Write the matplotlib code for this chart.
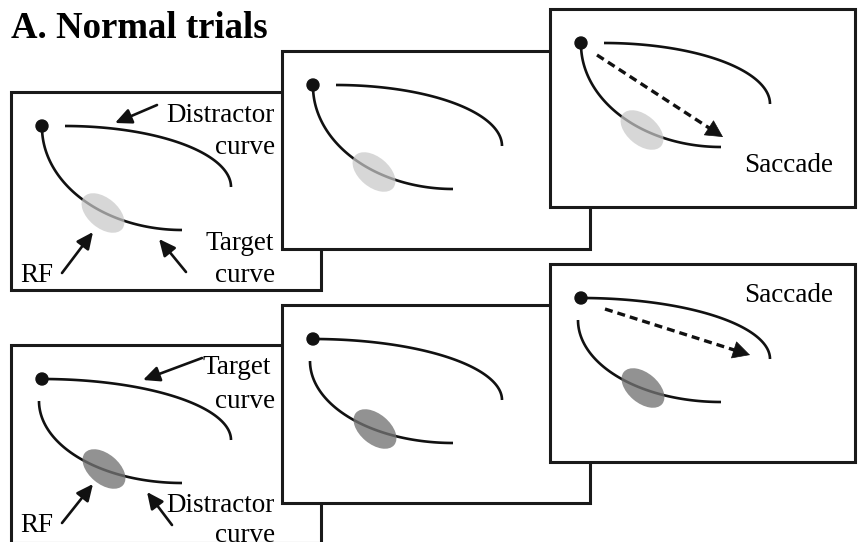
import numpy as np
import matplotlib.pyplot as plt
from matplotlib.patches import Rectangle, Ellipse, Circle, FancyArrowPatch

plt.rcParams['font.family'] = ['Liberation Serif', 'DejaVu Serif']

# panel frames (pixel coords, y down), three stages per row
PANEL_X = [11, 282, 550, 11, 282, 550]
PANEL_Y = [92, 51, 9, 345, 305, 264]
PANEL_W = [310, 308, 305, 310, 308, 305]
PANEL_H = 198
PANEL_ROW = [0, 0, 0, 1, 1, 1]
PANEL_STAGE = [0, 1, 2, 0, 1, 2]

# curves relative to the panel corner: start, end
UPPER_START = [(54, 34), (31, 34)]   # horizontal start, vertical end
UPPER_END = [(220, 95), (220, 95)]
LOWER_START = [(31, 35), (28, 56)]   # vertical start, horizontal end
LOWER_END = [(171, 138), (171, 138)]
FIX_DOT = (31, 34)

RF_CENTER = [(92, 121), (93, 124)]
RF_COLOR = ['#c8c8c8', '#737373']
RF_ALPHA = [0.72, 0.78]

SACCADE_FROM = [(47, 46), (55, 45)]
SACCADE_TO = [(173, 128), (200, 91)]
SACCADE_LABEL_POS = [(283, 154), (283, 28)]

# labels of first-stage panels: text, right edge x, centre y
LABELS = [
    [("Distractor", 264, 21), ("curve", 264, 53), ("Target", 263, 148), ("curve", 264, 181)],
    [("Target", 260, 20), ("curve", 264, 53), ("Distractor", 264, 157), ("curve", 264, 187)],
]
RF_LABEL_POS = [(9, 181), (9, 178)]
POINTER_FROM = [[(146, 13), (51, 181), (175, 180)],
                [(191, 13), (51, 178), (161, 180)]]
POINTER_TO = [[(104, 31), (82, 140), (148, 147)],
              [(132, 35), (82, 139), (136, 147)]]


def quarter_arc(p0, p1, horizontal_start):
    t = np.linspace(0, np.pi / 2, 80)
    (x0, y0), (x1, y1) = p0, p1
    if horizontal_start:
        return x0 + (x1 - x0) * np.sin(t), y1 - (y1 - y0) * np.cos(t)
    return x1 - (x1 - x0) * np.cos(t), y0 + (y1 - y0) * np.sin(t)


fig = plt.figure(figsize=(8.58, 5.42), dpi=100)
ax = fig.add_axes([0, 0, 1, 1])
ax.set_xlim(0, 858)
ax.set_ylim(542, 0)
ax.axis('off')

ax.text(11, 38, "A. Normal trials", fontsize=26.5, fontweight='bold',
        ha='left', va='baseline')

for i in range(6):
    ox, oy = PANEL_X[i], PANEL_Y[i]
    row, stage = PANEL_ROW[i], PANEL_STAGE[i]
    z = 10 * (i + 1)
    ax.add_patch(Rectangle((ox, oy), PANEL_W[i], PANEL_H, facecolor='white',
                           edgecolor='#1a1a1a', lw=2.2, zorder=z))

    for p0, p1, hs in [(UPPER_START[row], UPPER_END[row], True),
                       (LOWER_START[row], LOWER_END[row], False)]:
        x, y = quarter_arc(p0, p1, hs)
        ax.plot(x + ox, y + oy, color='#111111', lw=1.9,
                solid_capstyle='butt', zorder=z + 1)

    ax.add_patch(Circle((FIX_DOT[0] + ox, FIX_DOT[1] + oy), 6,
                        color='#111111', zorder=z + 2))
    cx, cy = RF_CENTER[row]
    ax.add_patch(Ellipse((cx + ox, cy + oy), 50, 30, angle=40,
                         facecolor=RF_COLOR[row], alpha=RF_ALPHA[row],
                         edgecolor='none', zorder=z + 3))

    if stage == 0:
        for txt, tx, ty in LABELS[row]:
            ax.text(tx + ox, ty + oy, txt, fontsize=19.5, ha='right',
                    va='center_baseline', zorder=z + 4)
        rx, ry = RF_LABEL_POS[row]
        ax.text(rx + ox, ry + oy, "RF", fontsize=19.5, ha='left',
                va='center_baseline', zorder=z + 4)
        for a, b in zip(POINTER_FROM[row], POINTER_TO[row]):
            ax.add_patch(FancyArrowPatch(
                (a[0] + ox, a[1] + oy), (b[0] + ox, b[1] + oy),
                arrowstyle='-|>,head_length=0.9,head_width=0.42',
                mutation_scale=11, lw=1.9, color='#111111',
                shrinkA=0, shrinkB=0, zorder=z + 4))

    if stage == 2:
        (sx, sy), (ex, ey) = SACCADE_FROM[row], SACCADE_TO[row]
        d = np.array([ex - sx, ey - sy], dtype=float)
        d /= np.hypot(*d)
        head = 16
        bx, by = ex - head * d[0], ey - head * d[1]
        ax.plot([sx + ox, bx + ox], [sy + oy, by + oy], color='#111111',
                lw=2.4, dashes=(2.4, 1.5), zorder=z + 4)
        ax.add_patch(FancyArrowPatch(
            (bx + ox, by + oy), (ex + ox, ey + oy),
            arrowstyle='-|>,head_length=1.05,head_width=0.55',
            mutation_scale=11, lw=0.5, color='#111111',
            shrinkA=0, shrinkB=0, zorder=z + 4))
        lx, ly = SACCADE_LABEL_POS[row]
        ax.text(lx + ox, ly + oy, "Saccade", fontsize=19.5, ha='right',
                va='center_baseline', zorder=z + 4)

fig.savefig('out.png', dpi=100)
